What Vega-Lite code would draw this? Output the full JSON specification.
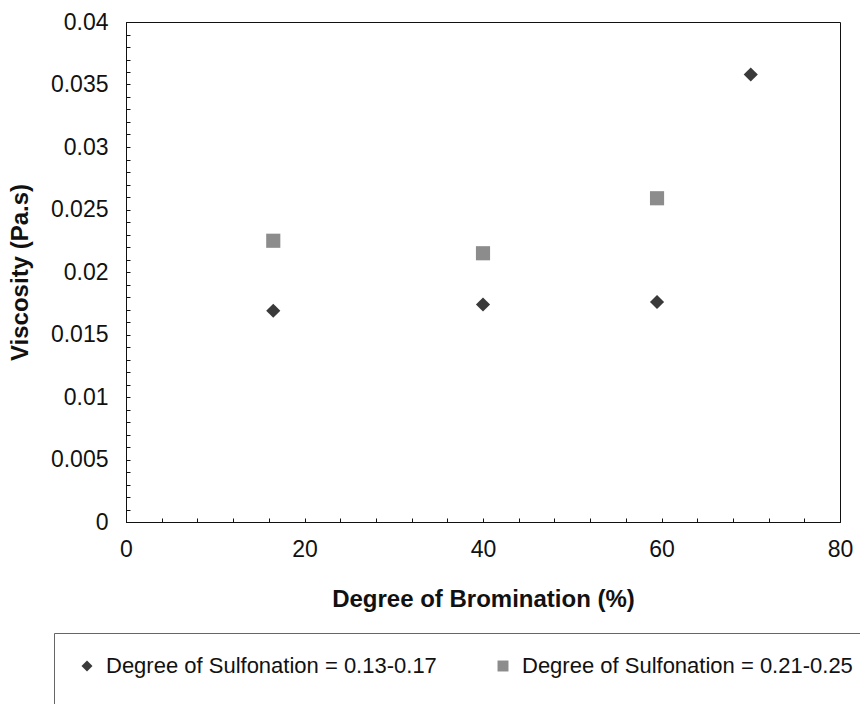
{
  "$schema": "https://vega.github.io/schema/vega-lite/v6.json",
  "width": 714,
  "height": 500,
  "autosize": "none",
  "padding": {"left": 126, "top": 22, "right": 20, "bottom": 182},
  "background": "white",
  "config": {
    "view": {"stroke": "#111111", "strokeWidth": 1},
    "font": "Liberation Sans",
    "axis": {"grid": false, "domainColor": "#111111", "tickColor": "#111111", "labelColor": "#111111", "titleColor": "#111111"}
  },
  "data": {
    "values": [
      {"bromination": 16.5, "viscosity": 0.0169, "series": "Degree of Sulfonation = 0.13-0.17"},
      {"bromination": 40.0, "viscosity": 0.0174, "series": "Degree of Sulfonation = 0.13-0.17"},
      {"bromination": 59.5, "viscosity": 0.0176, "series": "Degree of Sulfonation = 0.13-0.17"},
      {"bromination": 70.0, "viscosity": 0.0358, "series": "Degree of Sulfonation = 0.13-0.17"},
      {"bromination": 16.5, "viscosity": 0.0225, "series": "Degree of Sulfonation = 0.21-0.25"},
      {"bromination": 40.0, "viscosity": 0.0215, "series": "Degree of Sulfonation = 0.21-0.25"},
      {"bromination": 59.5, "viscosity": 0.0259, "series": "Degree of Sulfonation = 0.21-0.25"}
    ]
  },
  "mark": {"type": "point", "filled": true, "size": 200, "opacity": 1},
  "encoding": {
    "x": {
      "field": "bromination", "type": "quantitative",
      "scale": {"domain": [0, 80], "nice": false, "zero": false},
      "axis": {
        "title": "Degree of Bromination (%)",
        "titleFontSize": 24, "titleFontWeight": "bold", "titlePadding": 26,
        "values": [0, 4, 8, 12, 16, 20, 24, 28, 32, 36, 40, 44, 48, 52, 56, 60, 64, 68, 72, 76, 80],
        "labelExpr": "datum.value % 20 === 0 ? format(datum.value, 'd') : ''",
        "labelFontSize": 23, "labelPadding": 20, "labelOverlap": false, "labelFlush": false,
        "tickSize": -4
      }
    },
    "y": {
      "field": "viscosity", "type": "quantitative",
      "scale": {"domain": [0, 0.04], "nice": false, "zero": false},
      "axis": {
        "title": "Viscosity (Pa.s)",
        "titleFontSize": 24, "titleFontWeight": "bold", "titlePadding": 18,
        "values": [0, 0.001, 0.002, 0.003, 0.004, 0.005, 0.006, 0.007, 0.008, 0.009, 0.01, 0.011, 0.012, 0.013, 0.014, 0.015, 0.016, 0.017, 0.018, 0.019, 0.02, 0.021, 0.022, 0.023, 0.024, 0.025, 0.026, 0.027, 0.028, 0.029, 0.03, 0.031, 0.032, 0.033, 0.034, 0.035, 0.036, 0.037, 0.038, 0.039, 0.04],
        "labelExpr": "round(datum.value * 1000) % 5 === 0 ? format(datum.value, '~g') : ''",
        "labelFontSize": 23, "labelPadding": 22, "labelOverlap": false, "labelFlush": false,
        "tickSize": -4
      }
    },
    "color": {
      "field": "series", "type": "nominal",
      "scale": {"domain": ["Degree of Sulfonation = 0.13-0.17", "Degree of Sulfonation = 0.21-0.25"], "range": ["#3a3a3a", "#8c8c8c"]},
      "legend": {
        "title": " ", "titleOrient": "bottom", "titleFontSize": 20, "titlePadding": 12,
        "orient": "none", "direction": "horizontal",
        "legendX": -72, "legendY": 611,
        "padding": 22, "strokeColor": "#666666",
        "labelFontSize": 22, "labelLimit": 600, "labelColor": "#111111",
        "symbolSize": 120, "columnPadding": 55, "labelOffset": 8
      }
    },
    "shape": {
      "field": "series", "type": "nominal",
      "scale": {"domain": ["Degree of Sulfonation = 0.13-0.17", "Degree of Sulfonation = 0.21-0.25"], "range": ["diamond", "square"]}
    }
  }
}
